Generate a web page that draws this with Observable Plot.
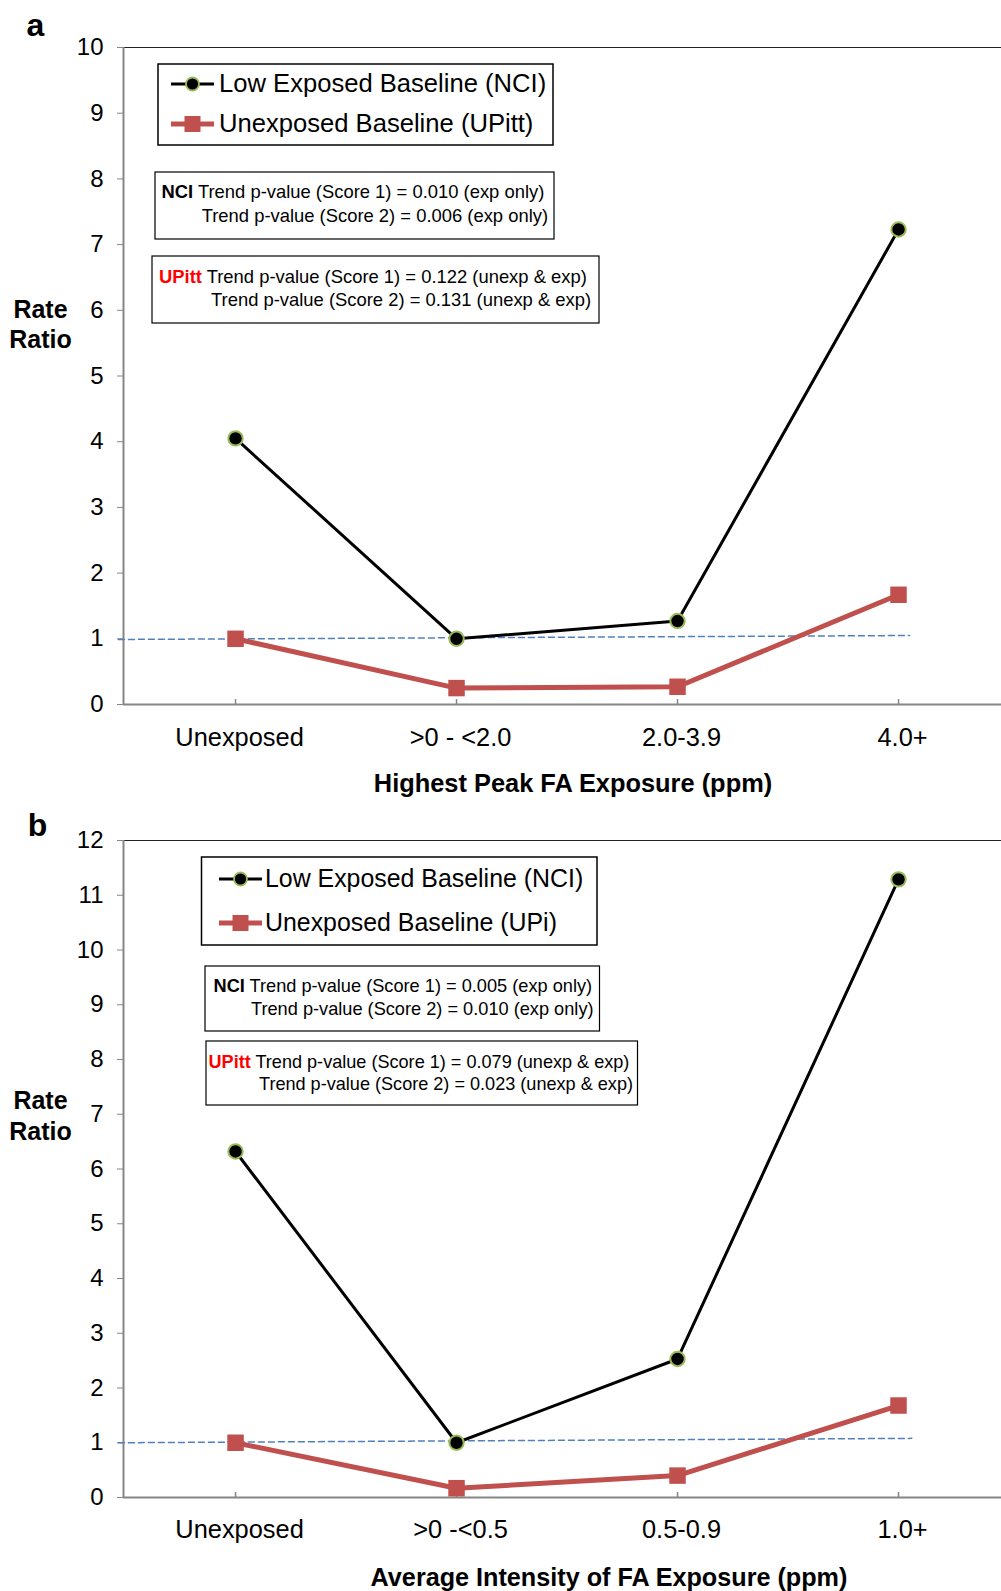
<!DOCTYPE html>
<html><head><meta charset="utf-8">
<script src="https://cdn.jsdelivr.net/npm/d3@7"></script>
<script src="https://cdn.jsdelivr.net/npm/@observablehq/plot@0.6"></script>
<style>
body{margin:0;background:#fff;}
#page{position:relative;width:1001px;height:1591px;overflow:hidden;font-family:"Liberation Sans",Arial,Helvetica,sans-serif;}
.panel{position:absolute;left:0;}
#overlay{position:absolute;left:0;top:0;pointer-events:none;}
</style></head>
<body><div id="page"><div id="pa" class="panel" style="top:0px"></div><div id="pb" class="panel" style="top:800px"></div></div>
<script>
// ---- data ----
const catsA = ["Unexposed", ">0 - <2.0", "2.0-3.9", "4.0+"];
const nciA = [4.05, 1.0, 1.27, 7.23];
const upittA = [1.0, 0.25, 0.27, 1.67];
const refXA = [0.47, 4.05];
const refYA = [0.99, 1.05];
const yTicksA = [0,1,2,3,4,5,6,7,8,9,10];

const catsB = ["Unexposed", ">0 -<0.5", "0.5-0.9", "1.0+"];
const nciB = [6.32, 1.0, 2.53, 11.29];
const upittB = [1.0, 0.17, 0.40, 1.68];
const refXB = [0.47, 4.06];
const refYB = [1.0, 1.08];
const yTicksB = [0,1,2,3,4,5,6,7,8,9,10,11,12];

const xLabelA = "Highest Peak FA Exposure (ppm)";
const xLabelB = "Average Intensity of FA Exposure (ppm)";
const legendA = ["Low Exposed Baseline (NCI)", "Unexposed Baseline (UPitt)"];
const legendB = ["Low Exposed Baseline (NCI)", "Unexposed Baseline (UPi)"];
const nciTextA = ["Trend p-value (Score 1) = 0.010 (exp only)", "Trend p-value (Score 2) = 0.006 (exp only)"];
const upTextA = ["Trend p-value (Score 1) = 0.122 (unexp & exp)", "Trend p-value (Score 2) = 0.131 (unexp & exp)"];
const nciTextB = ["Trend p-value (Score 1) = 0.005 (exp only)", "Trend p-value (Score 2) = 0.010 (exp only)"];
const upTextB = ["Trend p-value (Score 1) = 0.079 (unexp & exp)", "Trend p-value (Score 2) = 0.023 (unexp & exp)"];

const FONT = '"Liberation Sans", Arial, Helvetica, sans-serif';
const RED = "#C0504D", GREEN = "#9BBB59", BLUE = "#4F81BD", AXIS = "#868686";

function panel(cats, nci, upitt, refX, refY, yTicks, marginTop, marginBottom, pad) {
  const H = 800;
  const yMax = yTicks[yTicks.length - 1];
  const xDomain = [0.493, 4.466];
  const pts = cats.map((c, i) => ({i: i + 1, nci: nci[i], upitt: upitt[i]}));
  const ref = refX.map((x, i) => ({x, y: refY[i]}));
  const tickLen = 5 * yMax / (H - marginTop - marginBottom);
  return Plot.plot({
    width: 1001, height: H,
    marginLeft: 123, marginRight: 0, marginTop, marginBottom,
    style: {fontFamily: FONT, fontSize: "24px", color: "#000", background: "transparent", overflow: "visible"},
    x: {domain: xDomain, axis: null},
    y: {domain: [0, yMax], axis: null},
    marks: [
      Plot.ruleY([yMax], {stroke: "#222", strokeWidth: 1.2}),
      Plot.ruleY([0], {stroke: AXIS, strokeWidth: 2}),
      Plot.ruleX([xDomain[0]], {stroke: AXIS, strokeWidth: 2}),
      Plot.ruleX(pts.map(d => d.i), {y1: 0, y2: tickLen, stroke: AXIS, strokeWidth: 1.5}),
      Plot.axisY({ticks: yTicks, tickSize: 6, tickPadding: 14, stroke: AXIS, fill: "#000", fontSize: 24, label: null, tickFormat: d => String(d)}),
      Plot.axisX({ticks: pts.map(d => d.i), tickSize: 0, tickPadding: pad, dx: 4, fill: "#000", fontSize: 25.4, label: null, tickFormat: d => cats[d - 1]}),
      Plot.line(ref, {x: "x", y: "y", stroke: BLUE, strokeWidth: 1.5, strokeDasharray: "6,4"}),
      Plot.line(pts, {x: "i", y: "upitt", stroke: RED, strokeWidth: 5}),
      Plot.line(pts, {x: "i", y: "nci", stroke: "#000", strokeWidth: 3}),
      Plot.dot(pts, {x: "i", y: "upitt", symbol: "square", r: 9.3, fill: RED}),
      Plot.dot(pts, {x: "i", y: "nci", r: 7.2, fill: "#000", stroke: GREEN, strokeWidth: 2})
    ]
  });
}

document.getElementById("pa").appendChild(panel(catsA, nciA, upittA, refXA, refYA, yTicksA, 47, 96, 23));
document.getElementById("pb").appendChild(panel(catsB, nciB, upittB, refXB, refYB, yTicksB, 40, 103, 22.5));

// ---- overlay: panel letters, axis titles, legends, annotation boxes ----
const svg = d3.select("#page").append("svg").attr("id", "overlay")
  .attr("width", 1001).attr("height", 1591)
  .style("font-family", FONT);

function txt(x, y, s, size, opts = {}) {
  return svg.append("text").attr("x", x).attr("y", y).attr("font-size", size)
    .attr("font-weight", opts.bold ? "bold" : null)
    .attr("text-anchor", opts.anchor || "start")
    .attr("fill", opts.fill || "#000").text(s);
}
function box(x, y, w, h, sw) {
  svg.append("rect").attr("x", x).attr("y", y).attr("width", w).attr("height", h)
    .attr("fill", "white").attr("stroke", "#000").attr("stroke-width", sw);
}
function legend(x, y, w, h, symX0, symX1, y1, y2, textX, base1, base2, labels, fs) {
  box(x, y, w, h, 1.5);
  const cx = (symX0 + symX1) / 2;
  svg.append("line").attr("x1", symX0).attr("x2", symX1).attr("y1", y1).attr("y2", y1).attr("stroke", "#000").attr("stroke-width", 3);
  svg.append("circle").attr("cx", cx).attr("cy", y1).attr("r", 6.5).attr("fill", "#000").attr("stroke", GREEN).attr("stroke-width", 1.8);
  svg.append("line").attr("x1", symX0).attr("x2", symX1).attr("y1", y2).attr("y2", y2).attr("stroke", RED).attr("stroke-width", 5);
  svg.append("rect").attr("x", cx - 8).attr("y", y2 - 8).attr("width", 16).attr("height", 16).attr("fill", RED);
  txt(textX, base1, labels[0], fs);
  txt(textX, base2, labels[1], fs);
}
function annot(x, y, w, h, lead, leadColor, x1, b1, x2, b2, lines, fs) {
  box(x, y, w, h, 1.2);
  const t = svg.append("text").attr("x", x1).attr("y", b1).attr("font-size", fs).attr("fill", "#000");
  t.append("tspan").attr("font-weight", "bold").attr("fill", leadColor).text(lead);
  t.append("tspan").text(" " + lines[0]);
  txt(x2, b2, lines[1], fs);
}

// panel a
txt(35.5, 36, "a", 32, {bold: true, anchor: "middle"});
txt(40.5, 318, "Rate", 25, {bold: true, anchor: "middle"});
txt(40.5, 348, "Ratio", 25, {bold: true, anchor: "middle"});
txt(573, 792, xLabelA, 25.4, {bold: true, anchor: "middle"});
legend(158, 64, 395, 81, 171, 214, 84, 124, 219, 92, 132, legendA, 25.6);
annot(155, 172, 399, 67, "NCI", "#000", 161.5, 198, 201.7, 222, nciTextA, 18.4);
annot(152, 256, 447, 67, "UPitt", "#FF0000", 159, 283, 211, 306, upTextA, 18.4);

// panel b
txt(37.5, 836, "b", 32, {bold: true, anchor: "middle"});
txt(40.5, 1109, "Rate", 25, {bold: true, anchor: "middle"});
txt(40.5, 1140, "Ratio", 25, {bold: true, anchor: "middle"});
txt(609, 1586, xLabelB, 25.2, {bold: true, anchor: "middle"});
legend(201.5, 857, 395.5, 88, 219, 262, 879, 923, 265, 887, 931, legendB, 24.9);
annot(205, 966, 394.5, 65, "NCI", "#000", 213.5, 992, 251, 1015, nciTextB, 18.2);
annot(206, 1041, 431.5, 64, "UPitt", "#FF0000", 208.5, 1068, 259, 1090, upTextB, 18.1);
</script></body></html>
